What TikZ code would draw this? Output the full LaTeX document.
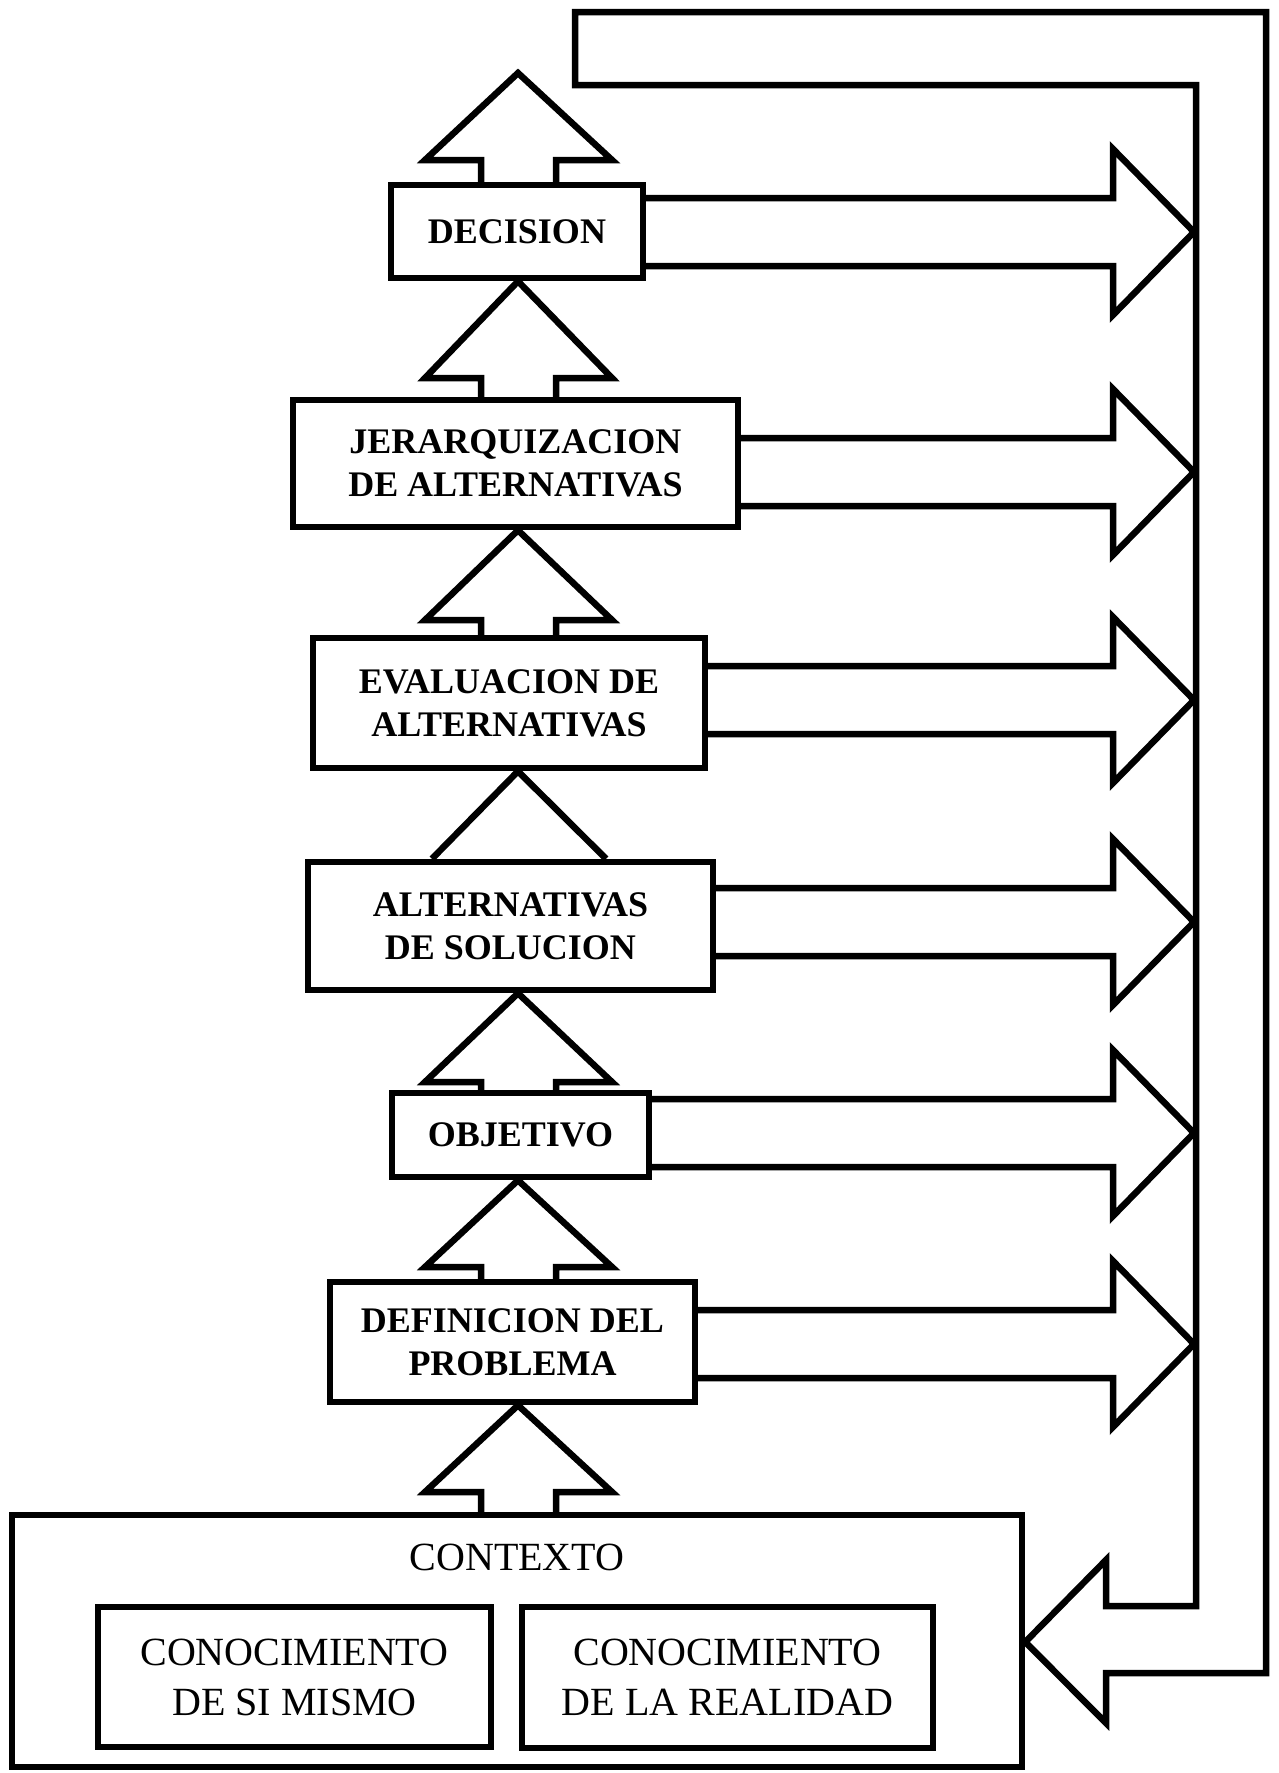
\documentclass[tikz,border=0pt]{standalone}
\usepackage{fontspec}
\setmainfont{Liberation Serif}
\usetikzlibrary{backgrounds,calc}
\tikzset{
  lw/.style={line width=6.5pt, line join=miter, miter limit=10},
  stage/.style={draw, lw, fill=white, inner sep=0pt, align=center,
    font=\fontsize{36}{43}\selectfont\bfseries},
  ctxbox/.style={draw, lw, fill=white, inner sep=0pt},
  know/.style={draw, lw, fill=white, inner sep=0pt, align=center,
    font=\fontsize{40}{50}\selectfont},
  blk/.style={draw, lw},
}
\begin{document}
\begin{tikzpicture}[x=1pt,y=-1pt]
\useasboundingbox (0,0) rectangle (1279,1773);

% stages
\node[stage, minimum width=252pt, minimum height=93pt]  (dec) at (517,231.5) {DECISION};
\node[stage, minimum width=445pt, minimum height=127pt] (jer) at (515.5,463.5) {JERARQUIZACION\\DE ALTERNATIVAS};
\node[stage, minimum width=392pt, minimum height=130pt] (eva) at (509,703) {EVALUACION DE\\ALTERNATIVAS};
\node[stage, minimum width=405pt, minimum height=128pt] (alt) at (510.5,926) {ALTERNATIVAS\\DE SOLUCION};
\node[stage, minimum width=257pt, minimum height=84pt]  (obj) at (520.5,1135) {OBJETIVO};
\node[stage, minimum width=365pt, minimum height=120pt] (def) at (512.5,1342) {DEFINICION DEL\\PROBLEMA};

% context
\node[ctxbox, minimum width=1010pt, minimum height=252pt] (ctx) at (517,1641) {};
\node[font=\fontsize{40}{50}\selectfont, inner sep=0pt] (ctxlabel) at (517,1557) {CONTEXTO};
\node[know, minimum width=393pt, minimum height=140pt] (k1) at (294.5,1677) {CONOCIMIENTO\\DE SI MISMO};
\node[know, minimum width=411pt, minimum height=141pt] (k2) at (727.5,1677.5) {CONOCIMIENTO\\DE LA REALIDAD};

\coordinate (toptip) at (518,73);

\begin{scope}[on background layer]
  \fill[white] (0,0) rectangle (1279,1773);
  % feedback loop
  \draw[lw] (1106,1606) -- (1196,1606) -- (1196,85) -- (575,85) -- (575,12)
    -- (1266,12) -- (1266,1673) -- (1106,1673) -- (1106,1723)
    -- (ctx.east |- 0,1642) -- (1106,1560) -- cycle;

  % upward block arrows
  \draw[blk] (481,0 |- dec.center) -- (481,160) -- (425,160) -- (toptip)
    -- (612,160) -- (556,160) -- (556,0 |- dec.center);
  \draw[blk] (481,0 |- jer.center) -- (481,378) -- (425,378) -- (518,0 |- dec.south)
    -- (612,378) -- (556,378) -- (556,0 |- jer.center);
  \draw[blk] (481,0 |- eva.center) -- (481,620) -- (425,620) -- (518,0 |- jer.south)
    -- (612,620) -- (556,620) -- (556,0 |- eva.center);
  \draw[blk] (432,0 |- alt.north) -- (518,0 |- eva.south) -- (606,0 |- alt.north);
  \draw[blk] (481,0 |- obj.center) -- (481,1082) -- (425,1082) -- (518,0 |- alt.south)
    -- (612,1082) -- (556,1082) -- (556,0 |- obj.center);
  \draw[blk] (481,0 |- def.center) -- (481,1267) -- (425,1267) -- (518,0 |- obj.south)
    -- (612,1267) -- (556,1267) -- (556,0 |- def.center);
  \draw[blk] (481,0 |- ctx.center) -- (481,1492) -- (425,1492) -- (518,0 |- def.south)
    -- (612,1492) -- (556,1492) -- (556,0 |- ctx.center);

  % rightward block arrows to the loop
  \foreach \n/\c in {dec/232, jer/472, eva/700, alt/922, obj/1133, def/1344}{
    \draw[blk] (\n.center |- 0,\c-34) -- (1113,\c-34) -- (1113,\c-83) -- (1194,\c)
      -- (1113,\c+83) -- (1113,\c+34) -- (\n.center |- 0,\c+34);
  }
\end{scope}
\end{tikzpicture}
\end{document}
